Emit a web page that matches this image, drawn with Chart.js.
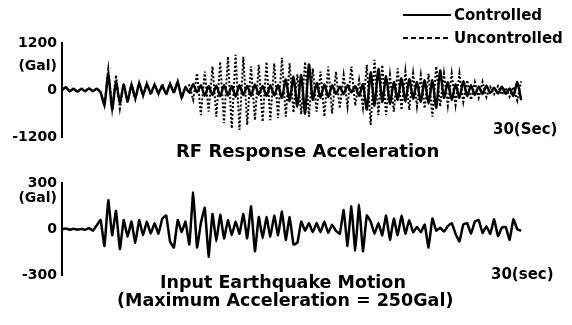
<!DOCTYPE html>
<html>
<head>
<meta charset="utf-8">
<script src="https://cdn.jsdelivr.net/npm/chart.js@4.4.1/dist/chart.umd.min.js"></script>
<style>
  body { margin: 0; background: #fff; }
  #wrap { position: relative; width: 572px; height: 325px; overflow: hidden;
          font-family: "DejaVu Sans", sans-serif; font-weight: bold; color: #000; }
  canvas { position: absolute; left: 0; }
  #topChart { top: 0; }
  #botChart { top: 170px; }
  .lbl { position: absolute; white-space: nowrap; line-height: 20px; }
  .key { position: absolute; left: 403px; width: 48px; height: 2px; }
</style>
</head>
<body>
<div id="wrap">
  <canvas id="topChart" width="572" height="170"></canvas>
  <canvas id="botChart" width="572" height="155"></canvas>

  <div class="key" style="top:14px; background:#000;"></div>
  <div class="lbl" style="left:454px; top:5px; font-size:15px;">Controlled</div>
  <div class="key" style="top:37px; background:repeating-linear-gradient(90deg,#000 0 5px,transparent 5px 8px);"></div>
  <div class="lbl" style="left:454px; top:28px; font-size:15px;">Uncontrolled</div>

  <div class="lbl" style="left:493px; top:119px; font-size:15px;">30(Sec)</div>
  <div class="lbl" style="left:176px; top:141px; font-size:18px;">RF Response Acceleration</div>

  <div class="lbl" style="left:491px; top:264px; font-size:15px;">30(sec)</div>
  <div class="lbl" style="left:160px; top:272px; font-size:17.5px;">Input Earthquake Motion</div>
  <div class="lbl" style="left:117px; top:290px; font-size:17.5px;">(Maximum Acceleration = 250Gal)</div>
</div>

<script>
// sample step of the traces (sec)
var step = 0.25;

// RF response acceleration, controlled (Gal)
var controlled = [
    0,   70,  -30,   30,  -40,   30,  -30,   40,  -30,   30,
  -60, -380,  420, -500,  210, -330,  150, -300,  130, -210,
  170, -130,  150,  -90,  130,  -80,  100, -100,  150,  -60,
  200, -190,   60,  -70,  150,  -60,  120, -150,  100, -130,
  110, -160,  130, -140,  100, -170,  120, -130,  110, -150,
  140, -120,  100, -150,  120, -140,  120, -200,  270, -280,
  340, -420,  380, -600,  650, -250,  180, -200,  150, -180,
  120, -100,   80, -100,  120,  -60,  100, -150,  150, -500,
  450, -400,  540, -300,  350, -350,  200, -250,  300, -300,
  280, -220,  200, -300,  250, -350,  250, -450,  500, -200,
  200, -250,  150, -200,  220, -150,  120, -130,   90, -100,
  110,  -80,   60,  -90,   80, -100,   40, -150,  200, -260
];

// RF response acceleration, uncontrolled (Gal)
var uncontrolled = [
    0,   60,  -30,   30,  -40,   30,  -30,   40,  -30,   30,
  -60, -400,  530, -480,  380, -470,  170, -320,  150, -240,
  190, -160,  180, -120,  150, -110,  160, -130,  170,  -90,
  230, -200,   80,  120, -250,  430, -640,  470, -550,  600,
 -680,  720, -850,  850, -980,  900,-1020,  850, -890,  600,
 -770,  640, -810,  720, -770,  680, -720,  820, -680,  680,
 -580,  400, -620,  720, -680,  550, -550,  470, -680,  600,
 -600,  470, -470,  380, -420,  600, -400,  250, -450,  640,
 -890,  770, -640,  640, -640,  380, -550,  550, -510,  470,
 -510,  420, -420,  380, -470,  420, -680,  600, -420,  420,
 -400,  420, -380,  420, -300,  250, -250,  200, -200,  210,
 -180,   80, -110,  100, -120,   60, -170,   80, -270,  220
];

// input earthquake motion (Gal)
var input = [
    0,    5,   -3,    3,   -3,    2,   -4,    8,  -10,   25,
   60, -110,  190,  -40,  120, -130,   60,  -50,   50,  -90,
   60,  -40,   50,  -30,   40,  -30,   70,   90,  -80, -120,
   60,  -20,   50, -100,  240, -120,   40,  140, -180,  100,
  -80,   95,  -60,   60,  -40,   50,  -30,  100,  -60,  150,
 -145,   80,  -60,   80,  -50,   90,  -40,  115,  -70,   80,
 -100,  -90,   50,  -10,   40,  -20,   40,  -20,   50,  -25,
   30,  -10,  -30,  125, -110,  150, -140,  160, -145,   90,
   50,  -30,   40,  -40,   90,  -70,   70,  -40,   90,  -30,
   60,  -20,   15,  -20,   30, -120,   70,  -10,   10,  -15,
   20,   40,  -30,  -80,   30,   40,  -30,   50,   60,  -25,
   20,  -30,   65,  -45,   10,   15,  -70,   65,    0,  -10
];

// y tick values: top, "(Gal)" row, zero, bottom
var topTicks = [1200, 600, 0, -1200];
var botTicks = [300, 200, 0, -300];

var secs = controlled.map(function (v, i) { return i * step; });

function pts(vals) {
    return vals.map(function (v, i) { return { x: secs[i], y: v }; });
}

function yAxis(tickVals) {
    return {
        min: tickVals[3],
        max: tickVals[0],
        afterFit: function (s) { s.width = 62; },
        afterBuildTicks: function (s) {
            s.ticks = tickVals.map(function (v) { return { value: v }; });
        },
        grid: { display: false, drawTicks: false },
        border: { display: true, color: '#000', width: 2 },
        ticks: {
            autoSkip: false,
            color: '#000',
            padding: 5,
            font: { family: 'DejaVu Sans', size: 14, weight: 'bold' },
            callback: function (v) { return v === tickVals[1] ? '(Gal)' : String(v); }
        }
    };
}

function baseOptions(tickVals, pad) {
    return {
        responsive: false,
        animation: false,
        devicePixelRatio: 1,
        events: [],
        layout: { padding: pad },
        plugins: { legend: { display: false }, tooltip: { enabled: false } },
        scales: {
            x: { type: 'linear', min: 0, max: 30, display: false },
            y: yAxis(tickVals)
        }
    };
}

window.onload = function () {
    new Chart(document.getElementById('topChart'), {
        type: 'line',
        data: {
            datasets: [{
                label: 'Controlled',
                data: pts(controlled),
                borderColor: '#000',
                borderWidth: 2.5,
                pointRadius: 0,
                tension: 0.2
            }, {
                label: 'Uncontrolled',
                data: pts(uncontrolled),
                borderColor: '#000',
                borderWidth: 2,
                borderDash: [2, 2],
                pointRadius: 0,
                tension: 0
            }]
        },
        options: baseOptions(topTicks, { left: 0, right: 47, top: 43, bottom: 33 })
    });

    new Chart(document.getElementById('botChart'), {
        type: 'line',
        data: {
            datasets: [{
                label: 'Input Earthquake Motion',
                data: pts(input),
                borderColor: '#000',
                borderWidth: 2.5,
                pointRadius: 0,
                tension: 0.1
            }]
        },
        options: baseOptions(botTicks, { left: 0, right: 47, top: 13, bottom: 50 })
    });
};
</script>
</body>
</html>
